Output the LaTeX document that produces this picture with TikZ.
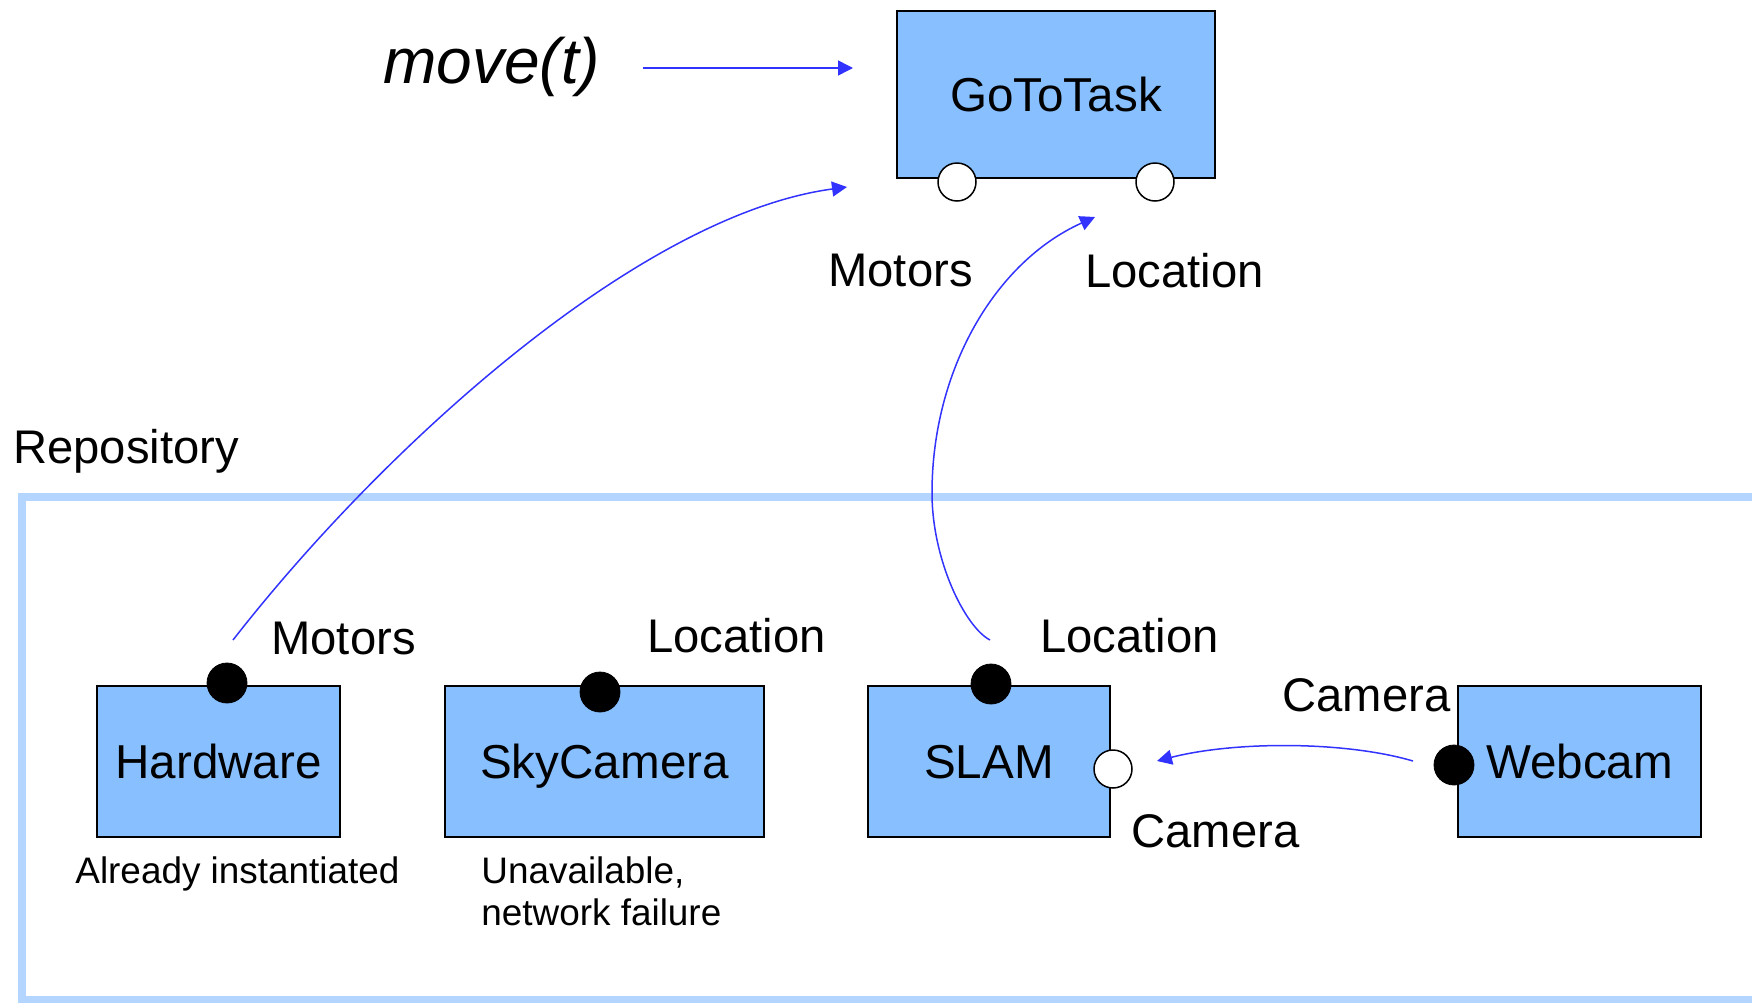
\documentclass[tikz,border=0pt]{standalone}
\usepackage{fontspec}
\setmainfont{Liberation Sans}
\usetikzlibrary{arrows.meta}
\definecolor{compfill}{HTML}{87BFFF}
\definecolor{repoline}{HTML}{B3D5FF}
\definecolor{wire}{HTML}{3333FF}

\begin{document}
\begin{tikzpicture}[x=0.5pt,y=-0.5pt,
  comp/.style={draw=black, line width=1pt, fill=compfill, rectangle, inner sep=0pt,
    font=\fontsize{23.8}{28}\selectfont, text height=17pt, text depth=0pt},
  provided/.style={circle, fill=black, draw=black, minimum size=20pt, inner sep=0pt},
  required/.style={circle, fill=white, draw=black, line width=0.75pt, minimum size=19pt, inner sep=0pt},
  lbl/.style={font=\fontsize{23.6}{28}\selectfont, inner sep=0pt, anchor=base west},
  note/.style={font=\fontsize{18.45}{21}\selectfont, inner sep=0pt, anchor=base west, align=left},
  link/.style={draw=wire, line width=0.75pt, -{Triangle[length=7.5pt,width=7.5pt]}}]

\useasboundingbox (0,0) rectangle (1752,1002);

% repository frame (runs off the right and bottom edges)
\draw[repoline, line width=4pt] (22,497) rectangle (1800,1000);
\node[lbl] (repo) at (13,463) {Repository};

% task component
\node[comp, minimum width=159pt, minimum height=83.5pt] (task) at (1056,94.5) {GoToTask};
\node[required] (taskmot) at (957,182) {};
\node[required] (taskloc) at (1155,182) {};
\node[lbl, font=\fontsize{32}{38}\selectfont\itshape] (move) at (383,83) {move(t)};
\node[lbl] (tmotlbl) at (828,286) {Motors};
\node[lbl] (tloclbl) at (1085,287) {Location};

% repository components
\node[comp, minimum width=121.5pt, minimum height=75.5pt] (hw) at (218.5,761.5) {Hardware};
\node[provided] (hwmot) at (227,683) {};
\node[lbl] (hwlbl) at (271,654) {Motors};
\node[note] (hwnote) at (75,883) {Already instantiated};

\node[comp, minimum width=159.5pt, minimum height=75.5pt] (sky) at (604.5,761.5) {SkyCamera};
\node[provided] (skyloc) at (600,692) {};
\node[lbl] (skylbl) at (647,652) {Location};
\node[note] (skynote) at (481,925) {Unavailable,\\network failure};

\node[comp, minimum width=121pt, minimum height=75.5pt] (slam) at (989,761.5) {SLAM};
\node[provided] (slamloc) at (991,684) {};
\node[required] (slamcam) at (1113,769) {};
\node[lbl] (slamloclbl) at (1040,652) {Location};
\node[lbl] (slamcamlbl) at (1131,847) {Camera};

\node[comp, minimum width=121.5pt, minimum height=75.5pt] (web) at (1579.5,761.5) {Webcam};
\node[provided] (webcam) at (1454,765) {};
\node[lbl] (webcamlbl) at (1282,711) {Camera};

% connector end points
\coordinate (moveA) at (643,68);
\coordinate (moveB) at (853,68);
\coordinate (motA) at (233,640);
\coordinate (motB) at (847,187);
\coordinate (locA) at (990,640);
\coordinate (locM) at (932,493);
\coordinate (locB) at (1095,217);
\coordinate (camA) at (1413,761);
\coordinate (camB) at (1157,761);

% bindings
\draw[link] (moveA) -- (moveB);
\draw[link] (motA) .. controls (385,445) and (640,215) .. (motB);
\draw[link] (locA) .. controls (965,627) and (932,560) .. (locM)
            .. controls (932,370) and (995,262) .. (locB);
\draw[link] (camA) .. controls (1345,741) and (1235,741) .. (camB);
\end{tikzpicture}
\end{document}
